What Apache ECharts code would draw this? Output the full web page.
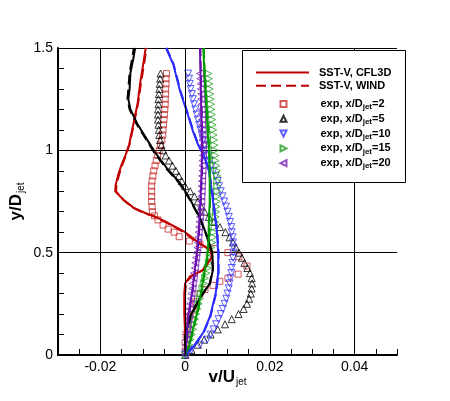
<!DOCTYPE html>
<html>
<head>
<meta charset="utf-8">
<script src="https://cdn.jsdelivr.net/npm/echarts@6/dist/echarts.min.js"></script>
<style>html,body{margin:0;padding:0;background:#fff}#c{width:450px;height:401px}</style>
</head>
<body>
<div id="c"></div>
<script>
// ---------- data ----------
const xTickValues = [-0.02, 0, 0.02, 0.04];
const xTickLabels = ['-0.02', '0', '0.02', '0.04'];

// CFL3D (solid) profiles [v/Ujet, y/Djet]
const redCFL3D = [[0,0],[0,0.1],[-0.0002,0.2],[-0.0002,0.3],[0,0.35],[0.0012,0.385],[0.0028,0.4],[0.0042,0.415],[0.0054,0.45],[0.0064,0.48],[0.0062,0.51],[0.004,0.54],[0.0025,0.56],[0,0.6],[-0.0045,0.65],[-0.0075,0.68],[-0.009,0.69],[-0.0122,0.72],[-0.0146,0.76],[-0.0165,0.8],[-0.0164,0.83],[-0.0158,0.88],[-0.015,0.93],[-0.014,0.98],[-0.0132,1.03],[-0.0122,1.13],[-0.0112,1.23],[-0.0106,1.33],[-0.0099,1.42],[-0.0093,1.5]];
const blackCFL3D = [[0,0],[0,0.09],[0.0012,0.19],[0.0035,0.28],[0.0059,0.35],[0.0066,0.42],[0.0064,0.5],[0.0052,0.58],[0.0035,0.67],[0.0012,0.76],[-0.0012,0.84],[-0.0042,0.91],[-0.0071,0.99],[-0.0089,1.05],[-0.0113,1.13],[-0.0129,1.2],[-0.0134,1.25],[-0.0131,1.3],[-0.0129,1.38],[-0.0122,1.45],[-0.0118,1.5]];
const blueCFL3D = [[0,0],[0.0019,0.04],[0.0043,0.11],[0.0059,0.19],[0.0072,0.3],[0.0078,0.4],[0.0078,0.5],[0.0075,0.6],[0.0069,0.7],[0.0063,0.8],[0.0056,0.9],[0.0045,0.97],[0.003,1.03],[0.0019,1.09],[0.0007,1.17],[-0.0012,1.29],[-0.0028,1.42],[-0.0045,1.5]];
const greenCFL3D = [[0,0],[0.001,0.05],[0.002,0.14],[0.003,0.22],[0.0037,0.3],[0.0045,0.4],[0.0052,0.47],[0.0055,0.55],[0.0056,0.65],[0.0058,0.75],[0.0058,0.85],[0.0057,0.97],[0.0053,1.1],[0.0049,1.25],[0.0045,1.4],[0.0043,1.5]];
const purpleCFL3D = [[0,0],[0.0004,0.1],[0.0008,0.2],[0.0016,0.3],[0.0022,0.4],[0.0028,0.5],[0.0032,0.6],[0.0035,0.7],[0.0037,0.8],[0.0039,0.9],[0.004,1.0],[0.0039,1.1],[0.0038,1.2],[0.0037,1.3],[0.0036,1.4],[0.0035,1.5]];

// WIND (dashed) profiles
const redWIND = [[0,0],[0.0002,0.1],[0,0.2],[0,0.3],[0.0002,0.35],[0.0014,0.385],[0.003,0.4],[0.0044,0.42],[0.0055,0.45],[0.0063,0.48],[0.006,0.51],[0.0038,0.54],[0.0022,0.56],[-0.0003,0.6],[-0.0047,0.65],[-0.0077,0.68],[-0.0093,0.69],[-0.0124,0.72],[-0.0147,0.76],[-0.0163,0.8],[-0.0162,0.83],[-0.0156,0.88],[-0.0148,0.93],[-0.0139,0.98],[-0.0131,1.03],[-0.0121,1.13],[-0.0111,1.23],[-0.0104,1.33],[-0.0097,1.42],[-0.0091,1.5]];
const blackWIND = [[0,0],[0.0001,0.09],[0.0013,0.19],[0.0036,0.28],[0.0058,0.35],[0.0065,0.42],[0.0063,0.5],[0.0051,0.58],[0.0034,0.67],[0.0011,0.76],[-0.0014,0.84],[-0.0044,0.91],[-0.0073,0.99],[-0.0091,1.05],[-0.0115,1.13],[-0.0131,1.2],[-0.0136,1.25],[-0.0134,1.3],[-0.0131,1.38],[-0.0125,1.45],[-0.0121,1.5]];
const blueWIND = [[0,0],[0.002,0.04],[0.0044,0.11],[0.006,0.19],[0.0073,0.3],[0.0079,0.4],[0.0079,0.5],[0.0076,0.6],[0.007,0.7],[0.0064,0.8],[0.0057,0.9],[0.0046,0.97],[0.0031,1.03],[0.002,1.09],[0.0008,1.17],[-0.0011,1.29],[-0.0027,1.42],[-0.0044,1.5]];
const greenWIND = [[0,0],[0.0011,0.05],[0.0021,0.14],[0.0031,0.22],[0.0038,0.3],[0.0046,0.4],[0.0053,0.47],[0.0056,0.55],[0.0057,0.65],[0.0059,0.75],[0.0059,0.85],[0.0058,0.97],[0.0054,1.1],[0.005,1.25],[0.0046,1.4],[0.0044,1.5]];
const purpleWIND = [[0,0],[0.0005,0.1],[0.0009,0.2],[0.0017,0.3],[0.0023,0.4],[0.0029,0.5],[0.0033,0.6],[0.0036,0.7],[0.0038,0.8],[0.004,0.9],[0.0041,1.0],[0.004,1.1],[0.0039,1.2],[0.0038,1.3],[0.0037,1.4],[0.0036,1.5]];

// experiments: shared y stations
const expY = [0,0.025,0.05,0.075,0.1,0.125,0.15,0.175,0.2,0.225,0.25,0.275,0.3,0.325,0.35,0.375,0.4,0.425,0.45,0.475,0.5,0.525,0.55,0.575,0.6,0.625,0.65,0.675,0.7,0.725,0.75,0.775,0.8,0.825,0.85,0.875,0.9,0.925,0.95,0.975,1.0,1.025,1.05,1.075,1.1,1.125,1.15,1.175,1.2,1.225,1.25,1.275,1.3,1.325,1.35,1.375];
const exp5X = [0,0.0015,0.003,0.0045,0.006,0.0077,0.0094,0.011,0.0126,0.0138,0.0146,0.0151,0.0155,0.0157,0.0158,0.0157,0.0153,0.0147,0.014,0.0134,0.0127,0.012,0.0113,0.0105,0.0095,0.0082,0.0068,0.0056,0.0046,0.0038,0.003,0.0022,0.0012,0,-0.0008,-0.0015,-0.0022,-0.003,-0.0038,-0.0046,-0.0052,-0.0056,-0.0059,-0.0061,-0.0062,-0.0063,-0.0064,-0.0064,-0.0064,-0.0063,-0.0063,-0.0062,-0.0061,-0.006,-0.0059,-0.0058];
const exp10X = [0,0.0015,0.0035,0.0052,0.006,0.0067,0.0073,0.0079,0.0084,0.0089,0.0093,0.0097,0.01,0.0103,0.0105,0.0107,0.0109,0.011,0.0112,0.0113,0.0114,0.0114,0.0113,0.0112,0.011,0.0109,0.0106,0.0103,0.01,0.0096,0.0092,0.0088,0.0084,0.008,0.0077,0.0072,0.0067,0.0063,0.0059,0.0054,0.005,0.0046,0.0042,0.0039,0.0036,0.0033,0.003,0.0027,0.0024,0.0021,0.0018,0.0016,0.0013,0.0011,0.0009,0.0007];
const exp15X = [0.0003,0.0008,0.001,0.0013,0.0016,0.0019,0.0021,0.0023,0.0026,0.0029,0.0032,0.0035,0.0038,0.0041,0.0044,0.0047,0.005,0.0053,0.0056,0.0058,0.006,0.0062,0.0064,0.0066,0.0068,0.007,0.0071,0.0072,0.0073,0.0074,0.0075,0.0075,0.0076,0.0076,0.0076,0.0076,0.0075,0.0074,0.0072,0.0071,0.007,0.0069,0.0068,0.0067,0.0066,0.0065,0.0064,0.0063,0.0062,0.0061,0.006,0.0059,0.0058,0.0057,0.0056,0.0055];
const exp20X = [0,0.0001,0.0002,0.0003,0.0004,0.0005,0.0006,0.0008,0.0009,0.0011,0.0012,0.0014,0.0015,0.0017,0.0018,0.002,0.0021,0.0023,0.0024,0.0026,0.0027,0.0029,0.003,0.0031,0.0032,0.0033,0.0034,0.0035,0.0036,0.0037,0.0038,0.0038,0.0039,0.0039,0.004,0.004,0.0041,0.0041,0.0041,0.0042,0.0042,0.0042,0.0041,0.0041,0.0041,0.004,0.004,0.004,0.0039,0.0039,0.0038,0.0038,0.0037,0.0037,0.0036,0.0035];
// x/D=2 experiment has its own stations [v/Ujet, y/Djet]
const exp2 = [[0,0.02],[0,0.06],[0.0002,0.1],[0.0007,0.14],[0.0012,0.19],[0.0019,0.22],[0.0025,0.26],[0.0035,0.3],[0.0047,0.32],[0.0066,0.34],[0.0082,0.36],[0.0101,0.375],[0.0125,0.395],[0.0146,0.435],[0.0127,0.48],[0.0101,0.5],[0.007,0.52],[0.0035,0.54],[0.001,0.557],[-0.0014,0.578],[-0.0026,0.6],[-0.004,0.615],[-0.0052,0.635],[-0.0064,0.66],[-0.0072,0.68],[-0.0077,0.7],[-0.0078,0.725],[-0.0079,0.75],[-0.0079,0.775],[-0.0079,0.8],[-0.0079,0.825],[-0.0078,0.85],[-0.0076,0.875],[-0.0074,0.9],[-0.0071,0.925],[-0.0068,0.95],[-0.0065,0.975],[-0.0061,1.0],[-0.0058,1.025],[-0.0055,1.05],[-0.0053,1.075],[-0.0052,1.1],[-0.0051,1.125],[-0.005,1.15],[-0.0049,1.175],[-0.0048,1.2],[-0.0047,1.225],[-0.0047,1.25],[-0.0046,1.275],[-0.0046,1.3],[-0.0045,1.325],[-0.0045,1.35],[-0.0044,1.375]];

// ---------- chart ----------
const FONT = 'Liberation Sans, Arial, sans-serif';
const C = {red:'#c00000', black:'#000000', blue:'#2b2bff', green:'#009a00', purple:'#6a10b0'};
const M = {red:'#c83030', black:'#000000', blue:'#3535ff', green:'#20a020', purple:'#7a22b8'};
const SYM = {
  up: 'triangle',
  down: 'path://M0,0L10,0L5,10Z',
  right: 'path://M0,0L10,5L0,10Z',
  left: 'path://M10,0L0,5L10,10Z'
};
const pairs = (xs) => xs.map((x, i) => [x, expY[i]]);

function lineSeries(name, data, color, dashed) {
  return {name, type:'line', data, symbol:'circle', showSymbol:false, smooth:false, z:4,
    lineStyle:{color, width:2, type: dashed ? [10,5] : 'solid'}, itemStyle:{color}};
}
function expSeries(name, data, color, symbol, size) {
  return {name, type:'scatter', data, symbol, symbolSize:size, z:3,
    itemStyle:{color:'none', borderColor:color, borderWidth:1}};
}

const expNames = {e2:'2', e5:'5', e10:'10', e15:'15', e20:'20'};

const chart = echarts.init(document.getElementById('c'), null, {renderer:'canvas'});
chart.setOption({
  animation:false,
  backgroundColor:'#fff',
  grid:{left:58, right:53, top:48, bottom:46, containLabel:false, outerBoundsMode:'none'},
  xAxis:{type:'value', min:-0.03, max:0.05, interval:0.01,
    axisLine:{show:true, onZero:false, lineStyle:{color:'#000', width:2}},
    axisTick:{show:true, inside:true, length:6, lineStyle:{color:'#000', width:1}},
    minorTick:{show:true, splitNumber:2, length:6, lineStyle:{color:'#000', width:1}},
    splitLine:{show:false},
    axisLabel:{margin:5, color:'#000', fontFamily:FONT, fontSize:14,
      formatter:(v)=>{const i = xTickValues.findIndex(t=>Math.abs(t-v)<1e-9); return i>=0 ? xTickLabels[i] : '';}},
    name:'{a|v/U}{b|jet}', nameLocation:'middle', nameGap:12, nameMoveOverlap:false,
    nameTextStyle:{rich:{a:{fontFamily:FONT, fontSize:17, fontWeight:'bold', color:'#000', lineHeight:20, verticalAlign:'middle'},
                         b:{fontFamily:FONT, fontSize:10, color:'#000', verticalAlign:'bottom', lineHeight:12, padding:[12,0,0,1]}}}
  },
  yAxis:{type:'value', min:0, max:1.5, interval:0.5,
    axisLine:{show:true, onZero:false, lineStyle:{color:'#000', width:2}},
    axisTick:{show:true, inside:true, length:6, lineStyle:{color:'#000', width:1}},
    minorTick:{show:true, splitNumber:5, length:6, lineStyle:{color:'#000', width:1}},
    splitLine:{show:true, lineStyle:{color:'#000', width:1}},
    axisLabel:{margin:5, color:'#000', fontFamily:FONT, fontSize:14},
    name:'{a|y/D}{b|jet}', nameLocation:'middle', nameRotate:90, nameGap:32, nameMoveOverlap:false,
    nameTextStyle:{rich:{a:{fontFamily:FONT, fontSize:17, fontWeight:'bold', color:'#000', lineHeight:20, verticalAlign:'middle'},
                         b:{fontFamily:FONT, fontSize:10, color:'#000', verticalAlign:'bottom', lineHeight:12, padding:[12,0,0,1]}}}
  },
  graphic:[{type:'rect', z:50, silent:true, shape:{x:242.5, y:50.5, width:163, height:132},
    style:{fill:'#fff', stroke:'#000', lineWidth:1}}],
  legend:[
    {data:['SST-V, CFL3D','SST-V, WIND'], orient:'vertical', left:255, top:67, z:60, padding:0,
     itemWidth:53, itemHeight:14, itemGap:2, selectedMode:false,
     itemStyle:{opacity:0},
     textStyle:{fontFamily:FONT, fontSize:11, fontWeight:'bold', color:'#000', padding:[0,0,0,5]}},
    {data:['e2','e5','e10','e15','e20'], orient:'vertical', left:278, top:97, z:60, padding:0,
     itemWidth:6, itemHeight:6, itemGap:0.8, selectedMode:false,
     formatter:(n)=>'exp, x/D{s|jet}=' + expNames[n],
     textStyle:{fontFamily:FONT, fontSize:11, fontWeight:'bold', color:'#000', lineHeight:14, padding:[0,0,0,29],
       rich:{s:{fontFamily:FONT, fontSize:8, fontWeight:'bold', color:'#000', verticalAlign:'bottom', lineHeight:10, padding:[4,0,0,0]}}}}
  ],
  series:[
    {name:'grid', type:'scatter', data:[], z:1, silent:true,
     markLine:{silent:true, symbol:'none', label:{show:false}, animation:false,
       lineStyle:{color:'#000', width:1, type:'solid'},
       data: xTickValues.map(v=>({xAxis:v}))}},
    expSeries('e2', exp2, M.red, 'rect', 6),
    expSeries('e5', pairs(exp5X), M.black, SYM.up, 7),
    expSeries('e10', pairs(exp10X), M.blue, SYM.down, 7),
    expSeries('e15', pairs(exp15X), M.green, SYM.right, 7),
    expSeries('e20', pairs(exp20X), M.purple, SYM.left, 7),
    lineSeries('SST-V, WIND', redWIND, C.red, true),
    lineSeries('WIND 5', blackWIND, C.black, true),
    lineSeries('WIND 10', blueWIND, C.blue, true),
    lineSeries('WIND 15', greenWIND, C.green, true),
    lineSeries('WIND 20', purpleWIND, C.purple, true),
    lineSeries('SST-V, CFL3D', redCFL3D, C.red, false),
    lineSeries('CFL3D 5', blackCFL3D, C.black, false),
    lineSeries('CFL3D 10', blueCFL3D, C.blue, false),
    lineSeries('CFL3D 15', greenCFL3D, C.green, false),
    lineSeries('CFL3D 20', purpleCFL3D, C.purple, false)
  ]
});
</script>
</body>
</html>
